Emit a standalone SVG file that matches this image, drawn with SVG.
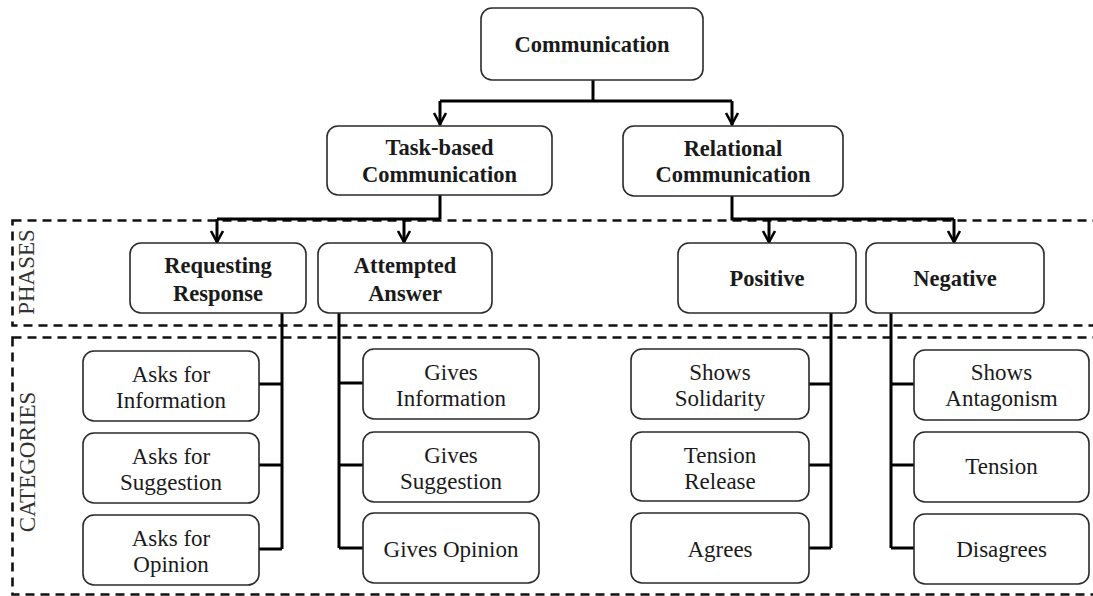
<svg xmlns="http://www.w3.org/2000/svg" width="1093" height="596" viewBox="0 0 1093 596">
<style>
.box{fill:#fff;stroke:#2a2a2a;stroke-width:1.6}
text{font-family:'Liberation Serif','Times New Roman',Tinos,'DejaVu Serif',serif;fill:#1a1a1a;text-anchor:middle}
.b{font-weight:bold;font-size:22.5px}
.r{font-size:23px}
.lbl{font-size:23px;fill:#333}
.dash{fill:none;stroke:#111;stroke-width:2.6;stroke-dasharray:9 6}
.c{fill:none;stroke:#000;stroke-width:3}
.ah{fill:none;stroke:#000;stroke-width:2.6;stroke-linejoin:miter}
</style>
<rect width="1093" height="596" fill="#fff"/>

<g id="regions">
<rect class="dash" x="12.5" y="220.5" width="1090" height="105"/>
<rect class="dash" x="12.5" y="337.5" width="1090" height="257"/>
<text class="lbl" transform="translate(34,272) rotate(-90)">PHASES</text>
<text class="lbl" transform="translate(35,462) rotate(-90)">CATEGORIES</text>
</g>

<g id="connectors">
<path class="c" d="M593 80V101M440 101H732M440 101V125M732 101V125"/>
<path class="ah" d="M434 113L440 124L446 113M726 113L732 124L738 113"/>
<path class="c" d="M440 195V219M217 219H440M217 219V242M404 219V242"/>
<path class="ah" d="M211 231L217 242L223 231M398 231L404 242L410 231"/>
<path class="c" d="M732 196V219H954M769 219V242M954 219V242"/>
<path class="ah" d="M763 231L769 242L775 231M948 231L954 242L960 231"/>
<path class="c" d="M282 313V549M259 384H282M259 465H282M259 549H282"/>
<path class="c" d="M339 313V548M339 383H363M339 465H363M339 548H363"/>
<path class="c" d="M831 313V548M809 384H831M809 465H831M809 548H831"/>
<path class="c" d="M891 313V548M891 384H914M891 465H914M891 548H914"/>
</g>

<g id="communication">
<rect class="box" x="481" y="8" width="222" height="72" rx="11"/>
<text class="b" x="592" y="52">Communication</text>
</g>
<g id="task-based">
<rect class="box" x="327" y="126" width="225" height="69" rx="11"/>
<text class="b" x="439.5" y="155">Task-based</text>
<text class="b" x="439.5" y="182">Communication</text>
</g>
<g id="relational">
<rect class="box" x="623" y="126" width="220" height="70" rx="11"/>
<text class="b" x="733" y="156">Relational</text>
<text class="b" x="733" y="182">Communication</text>
</g>

<g id="requesting-response">
<rect class="box" x="130" y="243" width="176" height="70" rx="11"/>
<text class="b" x="218" y="273">Requesting</text>
<text class="b" x="218" y="301">Response</text>
</g>
<g id="attempted-answer">
<rect class="box" x="318" y="243" width="174" height="70" rx="11"/>
<text class="b" x="405" y="273">Attempted</text>
<text class="b" x="405" y="301">Answer</text>
</g>
<g id="positive">
<rect class="box" x="678" y="243" width="178" height="70" rx="11"/>
<text class="b" x="767" y="286">Positive</text>
</g>
<g id="negative">
<rect class="box" x="866" y="243" width="178" height="70" rx="11"/>
<text class="b" x="955" y="286">Negative</text>
</g>

<g id="asks-information">
<rect class="box" x="83" y="351" width="176" height="70" rx="11"/>
<text class="r" x="171" y="382">Asks for</text>
<text class="r" x="171" y="408">Information</text>
</g>
<g id="asks-suggestion">
<rect class="box" x="83" y="433" width="176" height="70" rx="11"/>
<text class="r" x="171" y="464">Asks for</text>
<text class="r" x="171" y="490">Suggestion</text>
</g>
<g id="asks-opinion">
<rect class="box" x="83" y="515" width="176" height="70" rx="11"/>
<text class="r" x="171" y="546">Asks for</text>
<text class="r" x="171" y="572">Opinion</text>
</g>

<g id="gives-information">
<rect class="box" x="363" y="349" width="176" height="70" rx="11"/>
<text class="r" x="451" y="380">Gives</text>
<text class="r" x="451" y="406">Information</text>
</g>
<g id="gives-suggestion">
<rect class="box" x="363" y="432" width="176" height="70" rx="11"/>
<text class="r" x="451" y="463">Gives</text>
<text class="r" x="451" y="489">Suggestion</text>
</g>
<g id="gives-opinion">
<rect class="box" x="363" y="513" width="176" height="70" rx="11"/>
<text class="r" x="451" y="557">Gives Opinion</text>
</g>

<g id="shows-solidarity">
<rect class="box" x="631" y="349" width="178" height="70" rx="11"/>
<text class="r" x="720" y="380">Shows</text>
<text class="r" x="720" y="406">Solidarity</text>
</g>
<g id="tension-release">
<rect class="box" x="631" y="432" width="178" height="69" rx="11"/>
<text class="r" x="720" y="463">Tension</text>
<text class="r" x="720" y="489">Release</text>
</g>
<g id="agrees">
<rect class="box" x="631" y="513" width="178" height="70" rx="11"/>
<text class="r" x="720" y="557">Agrees</text>
</g>

<g id="shows-antagonism">
<rect class="box" x="914" y="350" width="175" height="70" rx="11"/>
<text class="r" x="1001.5" y="380">Shows</text>
<text class="r" x="1001.5" y="406">Antagonism</text>
</g>
<g id="tension">
<rect class="box" x="914" y="432" width="175" height="70" rx="11"/>
<text class="r" x="1001.5" y="474">Tension</text>
</g>
<g id="disagrees">
<rect class="box" x="914" y="514" width="175" height="70" rx="11"/>
<text class="r" x="1001.5" y="557">Disagrees</text>
</g>
</svg>
